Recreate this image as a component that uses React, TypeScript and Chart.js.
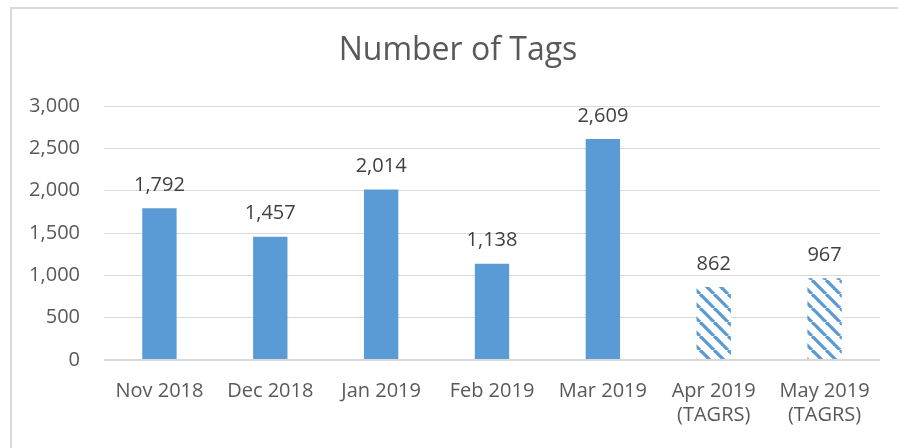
import React, { useEffect, useRef } from "react";
import { Chart, registerables } from "chart.js";

Chart.register(...registerables);

const chartTitle = "Number of Tags";
const categories: (string | string[])[] = [
  "Nov 2018",
  "Dec 2018",
  "Jan 2019",
  "Feb 2019",
  "Mar 2019",
  ["Apr 2019", "(TAGRS)"],
  ["May 2019", "(TAGRS)"],
];
const tagCounts: number[] = [1792, 1457, 2014, 1138, 2609, 862, 967];
const hatched: boolean[] = [false, false, false, false, false, true, true];
const yTicks: number[] = [0, 500, 1000, 1500, 2000, 2500, 3000];

const BLUE = "#5B9BD5";
const FONT = "'Open Sans', 'Noto Sans', sans-serif";

function makeHatch(): CanvasPattern | string {
  const s = 14;
  const c = document.createElement("canvas");
  c.width = s;
  c.height = s;
  const g = c.getContext("2d");
  if (!g) return BLUE;
  g.fillStyle = "#ffffff";
  g.fillRect(0, 0, s, s);
  g.strokeStyle = BLUE;
  g.lineWidth = 3.3;
  for (const x0 of [-s, 0, s]) {
    g.beginPath();
    g.moveTo(x0, 0);
    g.lineTo(x0 + s, s);
    g.stroke();
  }
  const p = g.createPattern(c, "repeat");
  return p || BLUE;
}

export default function App() {
  const ref = useRef<HTMLCanvasElement | null>(null);

  useEffect(() => {
    if (!ref.current) return;
    const pattern = makeHatch();

    const frame = {
      id: "frame",
      beforeDraw(chart: any) {
        const ctx = chart.ctx;
        ctx.save();
        ctx.fillStyle = "#ffffff";
        ctx.fillRect(0, 0, chart.width, chart.height);
        ctx.fillStyle = "#d9d9d9";
        ctx.fillRect(10, 7, 2, chart.height - 7);
        ctx.fillRect(10, 7, chart.width - 10, 2);
        ctx.font = `32px ${FONT}`;
        ctx.fillStyle = "#595959";
        ctx.textAlign = "center";
        ctx.textBaseline = "middle";
        ctx.fillText(chartTitle, 458, 51);
        ctx.restore();
      },
    };

    const valueLabels = {
      id: "valueLabels",
      afterDatasetsDraw(chart: any) {
        const ctx = chart.ctx;
        const meta = chart.getDatasetMeta(0);
        ctx.save();
        ctx.font = `20px ${FONT}`;
        ctx.fillStyle = "#404040";
        ctx.textAlign = "center";
        ctx.textBaseline = "alphabetic";
        meta.data.forEach((bar: any, i: number) => {
          const v = tagCounts[i];
          ctx.fillText(v.toLocaleString("en-US"), bar.x, bar.y - 17.5);
        });
        ctx.restore();
      },
    };

    const chart = new Chart(ref.current, {
      type: "bar",
      data: {
        labels: categories,
        datasets: [
          {
            label: chartTitle,
            data: tagCounts,
            backgroundColor: tagCounts.map((_, i) => (hatched[i] ? pattern : BLUE)) as any,
            borderWidth: 0,
            categoryPercentage: 1,
            barPercentage: 0.31,
          },
        ],
      },
      options: {
        animation: false,
        responsive: false,
        layout: { padding: { left: 0, right: 36, top: 106, bottom: 0 } },
        plugins: {
          legend: { display: false },
          tooltip: { enabled: false },
          title: { display: false },
        },
        scales: {
          x: {
            grid: { display: false, drawTicks: false },
            border: { display: false },
            ticks: {
              color: "#595959",
              font: { family: FONT, size: 20 },
              padding: 19,
              maxRotation: 0,
              autoSkip: false,
            },
            afterFit(scale: any) {
              scale.height = 88;
            },
          },
          y: {
            min: 0,
            max: 3000,
            afterBuildTicks(scale: any) {
              scale.ticks = yTicks.map((v) => ({ value: v }));
            },
            grid: {
              drawTicks: false,
              color: "#d9d9d9",
              lineWidth: (c: any) => (c.tick && c.tick.value === 0 ? 2 : 1),
            },
            border: { display: false },
            ticks: {
              color: "#595959",
              font: { family: FONT, size: 20 },
              padding: 24,
              callback: (v: any) => Number(v).toLocaleString("en-US"),
            },
            afterFit(scale: any) {
              scale.width = 104;
            },
          },
        },
      },
      plugins: [frame, valueLabels],
    });

    return () => chart.destroy();
  }, []);

  return (
    <div
      style={{
        position: "absolute",
        left: 0,
        top: 0,
        width: 898,
        height: 448,
        overflow: "hidden",
        background: "#ffffff",
      }}
    >
      <canvas ref={ref} width={916} height={448} style={{ display: "block" }} />
    </div>
  );
}
